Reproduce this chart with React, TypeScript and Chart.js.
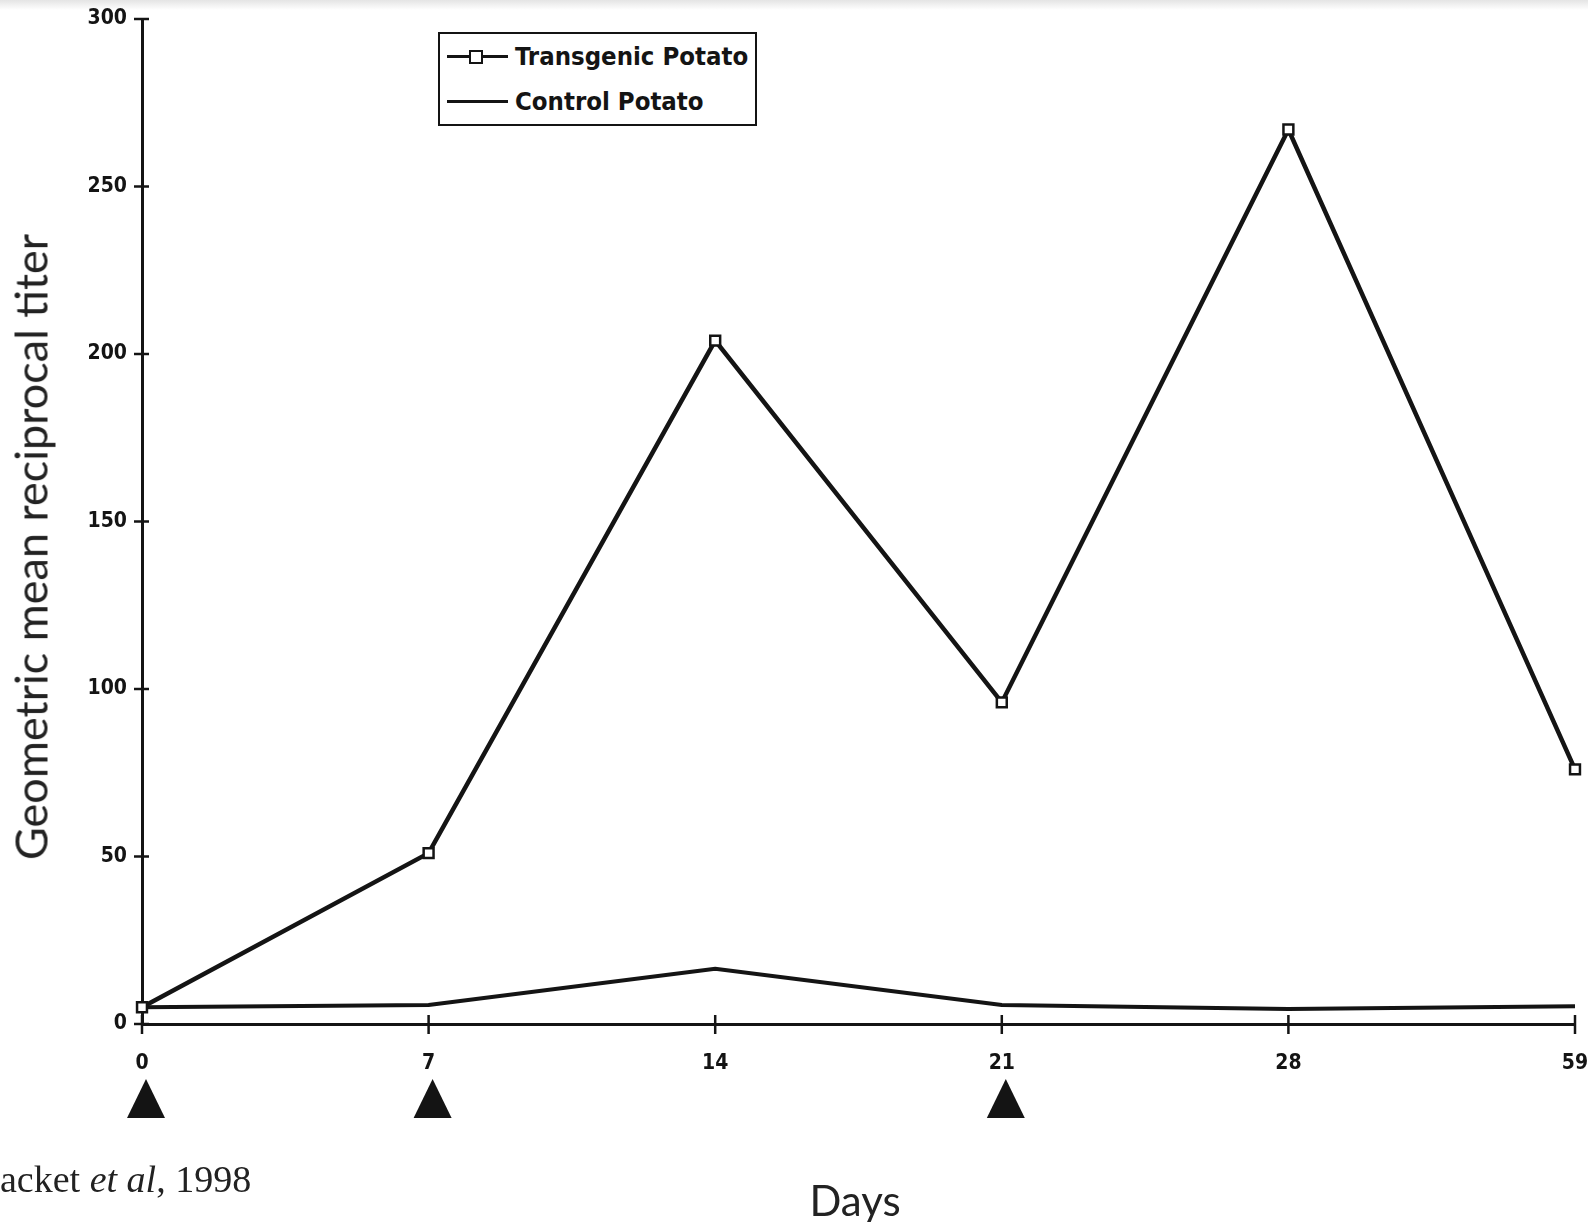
import React, { useEffect, useRef } from "react";
import { Chart, registerables } from "chart.js";

Chart.register(...registerables);

const days = ["0", "7", "14", "21", "28", "59"];
const transgenicTiter = [5, 51, 204, 96, 267, 76];
const controlTiter = [5, 5.7, 16.5, 5.7, 4.5, 5.3];
const yTickValues = [0, 50, 100, 150, 200, 250, 300];
const boosterDays = ["0", "7", "21"];
const legendLabels = ["Transgenic Potato", "Control Potato"];

const W = 1588;
const H = 1222;
const PLOT_LEFT = 142;
const PLOT_RIGHT = 1575;
const PLOT_TOP = 19;
const PLOT_BOTTOM = 1024;
const INK = "#141414";
const NARROW = "'DejaVu Sans Condensed', 'Liberation Sans Narrow', 'Arial Narrow', sans-serif";
const TICK_FONT = { family: NARROW, size: 21, weight: "bold" as const };

const extrasPlugin = {
  id: "extras",
  afterDraw(chart: any) {
    const ctx = chart.ctx;
    const xs = chart.scales.x;
    const ys = chart.scales.y;
    ctx.save();
    ctx.strokeStyle = INK;
    ctx.fillStyle = INK;
    ctx.lineWidth = 2.5;
    yTickValues.forEach((v) => {
      const y = ys.getPixelForValue(v);
      ctx.beginPath();
      ctx.moveTo(xs.left - 8, y);
      ctx.lineTo(xs.left + 7, y);
      ctx.stroke();
    });
    days.forEach((_d, i) => {
      const x = xs.getPixelForValue(i);
      ctx.beginPath();
      ctx.moveTo(x, ys.bottom - 9);
      ctx.lineTo(x, ys.bottom + 10);
      ctx.stroke();
    });
    boosterDays.forEach((d) => {
      const x = xs.getPixelForValue(days.indexOf(d)) + 4;
      ctx.beginPath();
      ctx.moveTo(x, 1079);
      ctx.lineTo(x + 19, 1118);
      ctx.lineTo(x - 19, 1118);
      ctx.closePath();
      ctx.fill();
    });
    ctx.restore();
  },
};

function App() {
  const ref = useRef<HTMLCanvasElement>(null);
  useEffect(() => {
    const canvas = ref.current!;
    const chart = new Chart(canvas, {
      type: "line",
      data: {
        labels: days,
        datasets: [
          {
            label: legendLabels[0],
            data: transgenicTiter,
            borderColor: INK,
            borderWidth: 4.5,
            pointStyle: "rect",
            pointRadius: 7,
            pointBackgroundColor: "#fff",
            pointBorderColor: INK,
            pointBorderWidth: 2.5,
            tension: 0,
            clip: false as any,
          },
          {
            label: legendLabels[1],
            data: controlTiter,
            borderColor: INK,
            borderWidth: 4,
            pointRadius: 0,
            tension: 0,
            clip: false as any,
          },
        ],
      },
      options: {
        animation: false,
        responsive: false,
        events: [],
        layout: { padding: { left: 0, right: W - PLOT_RIGHT, top: PLOT_TOP, bottom: 0 } },
        plugins: { legend: { display: false }, tooltip: { enabled: false } },
        scales: {
          x: {
            type: "category",
            offset: false,
            grid: { display: false, drawTicks: false },
            border: { display: true, color: INK, width: 3 },
            ticks: { font: TICK_FONT, color: INK, padding: 27, maxRotation: 0, autoSkip: false },
            afterFit: (s: any) => {
              s.height = H - PLOT_BOTTOM;
              s.paddingLeft = 0;
              s.paddingRight = 0;
            },
          },
          y: {
            min: 0,
            max: 300,
            grid: { display: false, drawTicks: false },
            border: { display: true, color: INK, width: 3 },
            ticks: { stepSize: 50, font: TICK_FONT, color: INK, padding: 15 },
            afterFit: (s: any) => {
              s.width = PLOT_LEFT;
              s.paddingTop = 0;
              s.paddingBottom = 0;
            },
          },
        },
      },
      plugins: [extrasPlugin],
    });
    return () => chart.destroy();
  }, []);

  const titleFont = "Lato, 'Open Sans', sans-serif";

  return (
    <div style={{ position: "absolute", left: 0, top: 0, width: W, height: H, background: "#fff", overflow: "hidden" }}>
      <div style={{ position: "absolute", left: 0, top: 0, width: W, height: 10, background: "linear-gradient(#e4e4e4, #ffffff)" }} />
      <canvas ref={ref} width={W} height={H} style={{ position: "absolute", left: 0, top: 0, width: W, height: H }} />
      <div
        style={{
          position: "absolute",
          left: 438,
          top: 32,
          width: 319,
          height: 94,
          boxSizing: "border-box",
          border: `2px solid ${INK}`,
          background: "#fff",
          fontFamily: NARROW,
          fontWeight: "bold",
          fontSize: 25.5,
          color: INK,
        }}
      >
        <div style={{ position: "absolute", left: 7, top: 21, width: 61, height: 3, background: INK }} />
        <div style={{ position: "absolute", left: 29, top: 16, width: 14, height: 14, boxSizing: "border-box", border: `2.5px solid ${INK}`, background: "#fff" }} />
        <div style={{ position: "absolute", left: 75, top: 7, whiteSpace: "nowrap", lineHeight: "30px" }}>{legendLabels[0]}</div>
        <div style={{ position: "absolute", left: 7, top: 66, width: 61, height: 3, background: INK }} />
        <div style={{ position: "absolute", left: 75, top: 52, whiteSpace: "nowrap", lineHeight: "30px" }}>{legendLabels[1]}</div>
      </div>
      <div
        style={{
          position: "absolute",
          left: 31,
          top: 547,
          transform: "translate(-50%, -50%) rotate(-90deg)",
          whiteSpace: "nowrap",
          fontFamily: titleFont,
          fontSize: 45,
          color: "#222",
          lineHeight: 1,
        }}
      >
        Geometric mean reciprocal titer
      </div>
      <div
        style={{
          position: "absolute",
          left: 855,
          top: 1200,
          transform: "translate(-50%, -50%)",
          whiteSpace: "nowrap",
          fontFamily: titleFont,
          fontSize: 42,
          color: "#222",
          lineHeight: 1,
        }}
      >
        Days
      </div>
      <div
        style={{
          position: "absolute",
          left: 0,
          top: 1160,
          whiteSpace: "nowrap",
          fontFamily: "'Liberation Serif', 'DejaVu Serif', serif",
          fontSize: 38,
          color: "#222",
          lineHeight: 1,
        }}
      >
        acket <i>et al</i>, 1998
      </div>
    </div>
  );
}

export default App;
